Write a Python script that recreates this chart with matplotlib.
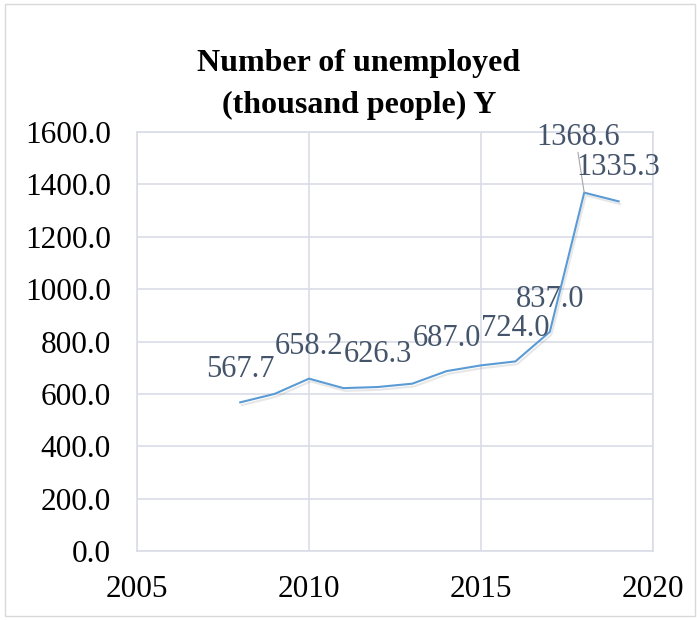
import matplotlib
matplotlib.use('Agg')
import matplotlib.pyplot as plt
import matplotlib.patheffects as pe

# --- Data ---
years = [2008, 2009, 2010, 2011, 2012, 2013, 2014, 2015, 2016, 2017, 2018, 2019]
unemployed = [567.7, 600.0, 658.2, 622.0, 626.3, 639.0, 687.0, 709.0, 724.0, 837.0, 1368.6, 1335.3]
labelled_years = [2008, 2010, 2012, 2014, 2016, 2017, 2018, 2019]
x_ticks = [2005, 2010, 2015, 2020]
y_ticks = [0, 200, 400, 600, 800, 1000, 1200, 1400, 1600]

LINE = '#5b9bd5'
LABEL = '#44546a'
GRID = '#d9dde6'

plt.rcParams['font.family'] = ['Liberation Serif', 'DejaVu Serif']

fig = plt.figure(figsize=(6.97, 6.2), dpi=100)
ax = fig.add_axes([0.1966, 0.1113, 0.7403, 0.6757])

ax.plot(years, unemployed, color=LINE, lw=1.5, zorder=3,
        path_effects=[pe.SimpleLineShadow(offset=(1.2, -2), shadow_color='#7f7f7f', alpha=0.18),
                      pe.Normal()])

# data labels above the points (offsets in points)
offsets = {2008: (0, 18), 2010: (0, 18), 2012: (0, 18), 2014: (0, 18),
           2016: (0, 18), 2017: (0, 18), 2018: (-4.5, 34), 2019: (0, 19)}
for yr, val in zip(years, unemployed):
    if yr not in labelled_years:
        continue
    dx, dy = offsets[yr]
    ax.annotate(f'{val:.1f}', (yr, val), xytext=(dx, dy), textcoords='offset points',
                ha='center', va='baseline', fontsize=22, color=LABEL, zorder=4)

# leader line for the 2018 label
ax.annotate('', (2018, 1368.6), xytext=(-4.5, 29), textcoords='offset points',
            arrowprops=dict(arrowstyle='-', color='#a6a6a6', lw=0.8, shrinkA=0, shrinkB=0))

ax.set_xlim(2005, 2020)
ax.set_ylim(0, 1600)
ax.set_xticks(x_ticks)
ax.set_yticks(y_ticks)
ax.set_yticklabels([f'{v:.1f}' for v in y_ticks])
ax.tick_params(axis='both', length=0, labelsize=22.5)
ax.tick_params(axis='y', pad=19)
ax.tick_params(axis='x', pad=17)
ax.grid(True, color=GRID, lw=1.2)
ax.set_axisbelow(True)
for s in ax.spines.values():
    s.set_color(GRID)
    s.set_linewidth(1.2)

fig.text(0.515, 1 - 71 / 620, 'Number of unemployed', ha='center', va='baseline',
         fontsize=23, fontweight='bold')
fig.text(0.515, 1 - 113 / 620, '(thousand people) Y', ha='center', va='baseline',
         fontsize=23, fontweight='bold')

# outer chart border
fig.patches.append(plt.Rectangle((0.007, 0.007), 0.99, 0.986, transform=fig.transFigure,
                                 fill=False, edgecolor='#d9d9d9', lw=1))

plt.savefig('out.png', dpi=100)
plt.close()
